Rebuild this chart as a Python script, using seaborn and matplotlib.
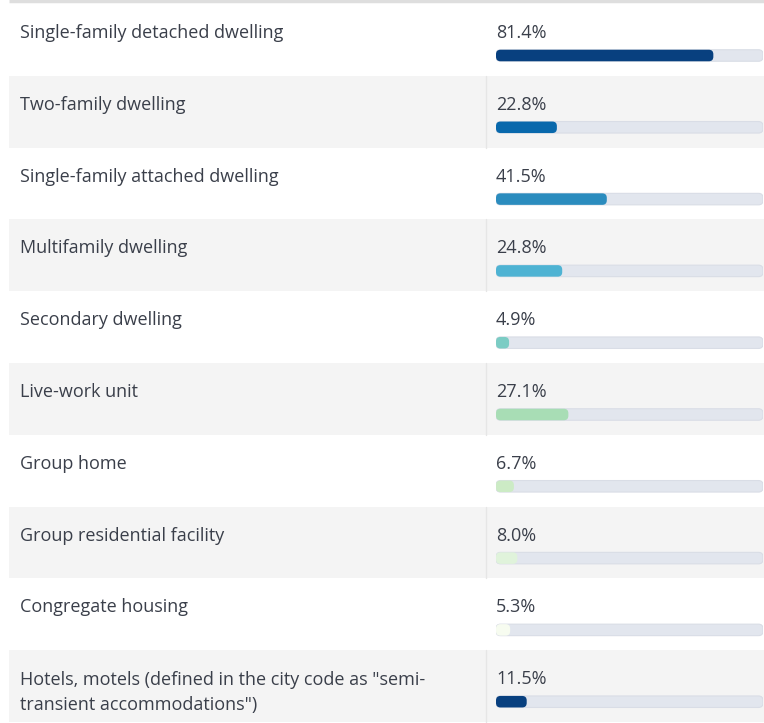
import matplotlib
matplotlib.use("Agg")
import matplotlib.pyplot as plt
import matplotlib.transforms as mtransforms
from matplotlib.patches import FancyBboxPatch
import seaborn as sns
import pandas as pd

categories = [
    "Single-family detached dwelling",
    "Two-family dwelling",
    "Single-family attached dwelling",
    "Multifamily dwelling",
    "Secondary dwelling",
    "Live-work unit",
    "Group home",
    "Group residential facility",
    "Congregate housing",
    'Hotels, motels (defined in the city code as "semi-\ntransient accommodations")',
]
values = [81.4, 22.8, 41.5, 24.8, 4.9, 27.1, 6.7, 8.0, 5.3, 11.5]
value_labels = ["81.4%", "22.8%", "41.5%", "24.8%", "4.9%", "27.1%", "6.7%", "8.0%", "5.3%", "11.5%"]
colors = ["#08407f", "#0868ac", "#2b8cbe", "#4eb3d3", "#7bccc4",
          "#a8ddb5", "#ccebc5", "#e0f3db", "#f7fcf0", "#08407f"]

sns.set_theme(style="white")
plt.rcParams["font.family"] = ["Open Sans", "DejaVu Sans"]

W, H = 764, 723
fig = plt.figure(figsize=(W / 100, H / 100), dpi=100)

# geometry (pixels)
row_h = 71.8
first_center = 55.5
ylim = ((H - first_center) / row_h, -first_center / row_h)
bar_x0, bar_x1 = 496, 763
text_col = "#3a3f4a"

# background axes
ax_bg = fig.add_axes([0, 0, 1, 1])
ax_bg.set_xlim(0, W)
ax_bg.set_ylim(*ylim)
ax_bg.axis("off")
n = len(categories)
for i in range(n):
    top = i - 51.5 / row_h
    bot = i + 20.3 / row_h
    if i % 2 == 1:
        ax_bg.axhspan(top, bot, xmin=9 / W, xmax=1, color="#f4f4f4", lw=0, zorder=0)
        ax_bg.plot([486, 486], [top, bot], color="#e6e6e6", lw=1, zorder=1)
ax_bg.plot([9, W], [-54 / row_h, -54 / row_h], color="#dedede", lw=2.5, solid_capstyle="butt")

# bar axes
ax = fig.add_axes([bar_x0 / W, 0, (bar_x1 - bar_x0) / W, 1])
ax.patch.set_alpha(0)
df = pd.DataFrame({"category": categories, "value": values, "track": [100.0] * n})
bh = 11.5 / row_h
sns.barplot(data=df, y="category", x="track", color="#e2e6ee", width=bh, ax=ax,
            orient="h", saturation=1)
ntrack = len(ax.patches)
sns.barplot(data=df, y="category", x="value", hue="category", palette=colors,
            legend=False, width=bh, ax=ax, orient="h", saturation=1)
ax.set_xlim(0, 100)
ax.set_ylim(*ylim)
ax.axis("off")

# round the bar ends
x_per_px = 100 / (bar_x1 - bar_x0)
y_per_px = (ylim[0] - ylim[1]) / H
for k, p in enumerate(list(ax.patches)):
    x, y, w, h = p.get_x(), p.get_y(), p.get_width(), p.get_height()
    fc = p.get_facecolor()
    is_track = k < ntrack
    r = 4.5 * x_per_px
    fb = FancyBboxPatch((x, y), w, h,
                        boxstyle=f"round,pad=0,rounding_size={min(r, w / 2 if w > 0 else r)}",
                        mutation_aspect=y_per_px / x_per_px,
                        facecolor=fc,
                        edgecolor="#d9dde6" if is_track else "none",
                        lw=0.8 if is_track else 0,
                        zorder=2 if is_track else 3)
    p.set_visible(False)
    ax.add_patch(fb)

# texts
trans_lbl = mtransforms.blended_transform_factory(fig.transFigure, ax.transData)
for i in range(n):
    ty = i - 22.5 / row_h
    two = "\n" in categories[i]
    ax.text(20 / W, ty - (8 / row_h if two else 0), categories[i], transform=trans_lbl,
            ha="left", va="top" if two else "center",
            fontsize=13.0, color=text_col, linespacing=1.5)
    ax.text(0, ty, value_labels[i], ha="left", va="center", fontsize=13, color=text_col)

fig.savefig("out.png", dpi=100)
